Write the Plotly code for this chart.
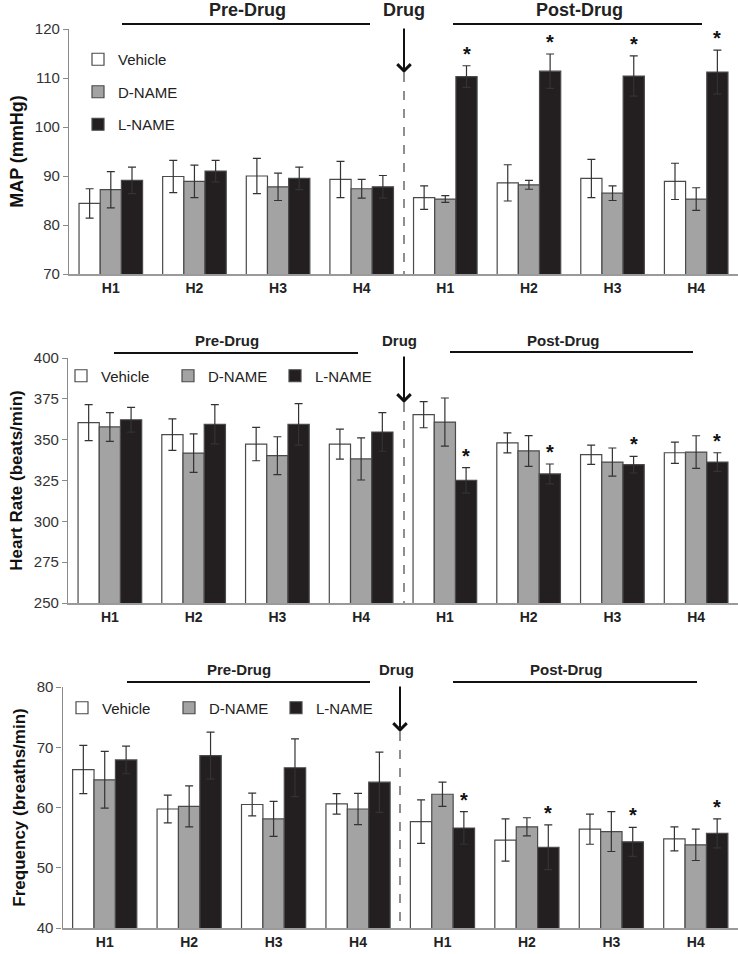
import plotly.graph_objects as go

# ---------------- data ----------------
hours = ["H1", "H2", "H3", "H4", "H1", "H2", "H3", "H4"]
series_names = ["Vehicle", "D-NAME", "L-NAME"]

map_vehicle = [84.4, 89.9, 90.0, 89.3, 85.6, 88.6, 89.5, 88.9]
map_vehicle_err = [3.0, 3.3, 3.6, 3.7, 2.4, 3.7, 3.9, 3.7]
map_dname = [87.2, 88.9, 87.8, 87.4, 85.3, 88.2, 86.5, 85.3]
map_dname_err = [3.7, 3.3, 2.8, 1.9, 0.7, 0.9, 1.5, 2.3]
map_lname = [89.1, 91.0, 89.5, 87.8, 110.3, 111.4, 110.4, 111.2]
map_lname_err = [2.7, 2.2, 2.3, 2.3, 2.2, 3.5, 4.1, 4.5]

hr_vehicle = [360.4, 353.1, 347.3, 347.3, 365.3, 348.0, 340.8, 342.0]
hr_vehicle_err = [11.0, 9.6, 10.2, 9.2, 8.0, 6.1, 5.9, 6.5]
hr_dname = [357.8, 341.8, 340.2, 338.2, 360.8, 343.1, 336.3, 342.4]
hr_dname_err = [8.8, 11.8, 11.6, 12.9, 14.7, 9.4, 8.6, 10.0]
hr_lname = [362.2, 359.4, 359.4, 354.7, 325.1, 329.0, 334.7, 336.3]
hr_lname_err = [7.6, 12.0, 12.7, 11.8, 7.8, 6.1, 5.1, 5.7]

fr_vehicle = [66.3, 59.75, 60.5, 60.6, 57.65, 54.6, 56.4, 54.8]
fr_vehicle_err = [4.0, 2.3, 1.9, 1.7, 3.6, 3.5, 2.5, 2.0]
fr_dname = [64.6, 60.2, 58.1, 59.75, 62.2, 56.8, 56.0, 53.8]
fr_dname_err = [4.7, 3.4, 2.9, 2.6, 2.0, 1.5, 3.3, 2.6]
fr_lname = [67.9, 68.6, 66.6, 64.2, 56.6, 53.4, 54.3, 55.7]
fr_lname_err = [2.3, 3.9, 4.8, 5.0, 2.7, 3.7, 2.4, 2.4]

lname_significant = [False, False, False, False, True, True, True, True]

y_titles = ["MAP (mmHg)", "Heart Rate (beats/min)", "Frequency (breaths/min)"]
y_ranges = [[70, 120], [250, 400], [40, 80]]
y_dticks = [10, 25, 10]

# ---------------- styling ----------------
W, H = 738, 954
FONT = "Liberation Sans, Arial, sans-serif"
fills = ["#ffffff", "#a3a3a3", "#231f20"]
outline = "#4a4a4a"
BARGAP = 0.24


def px(x):
    return x / W


def py(y):
    return 1 - y / H


panels = [
    dict(vals=[map_vehicle, map_dname, map_lname],
         errs=[map_vehicle_err, map_dname_err, map_lname_err]),
    dict(vals=[hr_vehicle, hr_dname, hr_lname],
         errs=[hr_vehicle_err, hr_dname_err, hr_lname_err]),
    dict(vals=[fr_vehicle, fr_dname, fr_lname],
         errs=[fr_vehicle_err, fr_dname_err, fr_lname_err]),
]

# pixel geometry of the three plot areas: (left, top, bottom)
geom = [(69, 29, 274), (68, 358, 603), (62.5, 687, 928)]
legend_names = ["legend", "legend2", "legend3"]

fig = go.Figure()
xpos = list(range(len(hours)))
annotations = []
shapes = []

for i, p in enumerate(panels):
    xa = "x" if i == 0 else f"x{i+1}"
    ya = "y" if i == 0 else f"y{i+1}"
    for s in range(3):
        fig.add_trace(go.Bar(
            x=xpos, y=p["vals"][s], name=series_names[s],
            xaxis=xa, yaxis=ya,
            marker=dict(color=fills[s], line=dict(color=outline, width=1.2)),
            error_y=dict(type="data", array=p["errs"][s], visible=True,
                         color="#333333", thickness=1.2, width=4),
            legend=legend_names[i], legendgroup=f"{i}-{s}",
            showlegend=True,
        ))
    # significance asterisks on L-NAME bars
    bw = (1 - BARGAP) / 3
    for k in range(len(hours)):
        if lname_significant[k]:
            annotations.append(dict(
                x=xpos[k] + bw, y=p["vals"][2][k] + p["errs"][2][k],
                xref=xa, yref=ya, text="<b>*</b>", showarrow=False,
                yanchor="bottom", yshift=-1,
                font=dict(size=20, color="#111", family=FONT)))

    left, top, bottom = geom[i]
    xkey = "xaxis" if i == 0 else f"xaxis{i+1}"
    ykey = "yaxis" if i == 0 else f"yaxis{i+1}"
    fig.update_layout(**{
        xkey: dict(domain=[px(left), 1], range=[-0.5, 7.5], anchor=ya,
                   tickvals=xpos, ticktext=[f"<b>{h}</b>" for h in hours],
                   tickfont=dict(size=14, color="#222", family=FONT),
                   showline=True, linecolor="#9a9a9a", linewidth=1.5,
                   ticks="", showgrid=False, zeroline=False, automargin=False),
        ykey: dict(domain=[py(bottom), py(top)], range=y_ranges[i],
                   dtick=y_dticks[i], anchor=xa, automargin=False,
                   showline=True, linecolor="#8a8a8a", linewidth=1.2,
                   ticks="outside", ticklen=5, tickcolor="#8a8a8a",
                   tickfont=dict(size=15, color="#333", family=FONT),
                   showgrid=False, zeroline=False,
                   title=dict(text=f"<b>{y_titles[i]}</b>", standoff=6,
                              font=dict(size=18 if i == 0 else 17,
                                        color="#111", family=FONT))),
    })

# ---------------- headers, arrows, dashed dividers ----------------
hdr = [
    dict(ty=10, fs=18, pre_x=247, pre_line=(122, 370, 24), drug_x=404,
         arr_x=404, arr=(27, 73), post_x=579, post_line=(453, 702, 24)),
    dict(ty=340, fs=15, pre_x=227, pre_line=(114, 358, 353), drug_x=400,
         arr_x=404, arr=(355, 403), post_x=563, post_line=(450, 693, 352)),
    dict(ty=669, fs=15, pre_x=239, pre_line=(127, 370, 682), drug_x=396,
         arr_x=400, arr=(685, 732), post_x=566, post_line=(453, 697, 682)),
]
for i, h in enumerate(hdr):
    for txt, tx in (("Pre-Drug", h["pre_x"]), ("Drug", h["drug_x"]), ("Post-Drug", h["post_x"])):
        annotations.append(dict(x=px(tx), y=py(h["ty"]), xref="paper", yref="paper",
                                text=f"<b>{txt}</b>", showarrow=False,
                                xanchor="center", yanchor="middle",
                                font=dict(size=h["fs"], color="#222", family=FONT)))
    for (x0, x1, yy) in (h["pre_line"], h["post_line"]):
        shapes.append(dict(type="line", xref="paper", yref="paper",
                           x0=px(x0), x1=px(x1), y0=py(yy), y1=py(yy),
                           line=dict(color="#111", width=2)))
    a0, a1 = h["arr"]
    annotations.append(dict(x=px(h["arr_x"]), y=py(a1), xref="paper", yref="paper",
                            ax=0, ay=-(a1 - a0), axref="pixel", ayref="pixel",
                            text="", showarrow=True, arrowhead=4, arrowsize=1.3,
                            arrowwidth=2, arrowcolor="#111"))
    left, top, bottom = geom[i]
    shapes.append(dict(type="line", xref="paper", yref="paper",
                       x0=px(h["arr_x"]), x1=px(h["arr_x"]), y0=py(a1), y1=py(bottom),
                       line=dict(color="#444", width=1.2, dash="dash")))

legend_common = dict(font=dict(size=15, color="#222", family=FONT),
                     bgcolor="rgba(0,0,0,0)", itemclick=False, itemdoubleclick=False)

fig.update_layout(
    width=W, height=H,
    margin=dict(l=0, r=0, t=0, b=0, autoexpand=False),
    paper_bgcolor="white", plot_bgcolor="white",
    barmode="group", bargap=BARGAP, bargroupgap=0,
    font=dict(family=FONT, color="#222"),
    annotations=annotations, shapes=shapes,
    legend=dict(x=px(78), y=py(43), xanchor="left", yanchor="top",
                orientation="v", tracegroupgap=10, **legend_common),
    legend2=dict(x=px(61), y=py(376), xanchor="left", yanchor="middle",
                 orientation="h", entrywidth=62, **legend_common),
    legend3=dict(x=px(62), y=py(708), xanchor="left", yanchor="middle",
                 orientation="h", entrywidth=62, **legend_common),
)

fig.write_html("out.html", config={"displayModeBar": False},
               post_script="document.body.style.margin='0px';document.body.style.overflow='hidden';")
